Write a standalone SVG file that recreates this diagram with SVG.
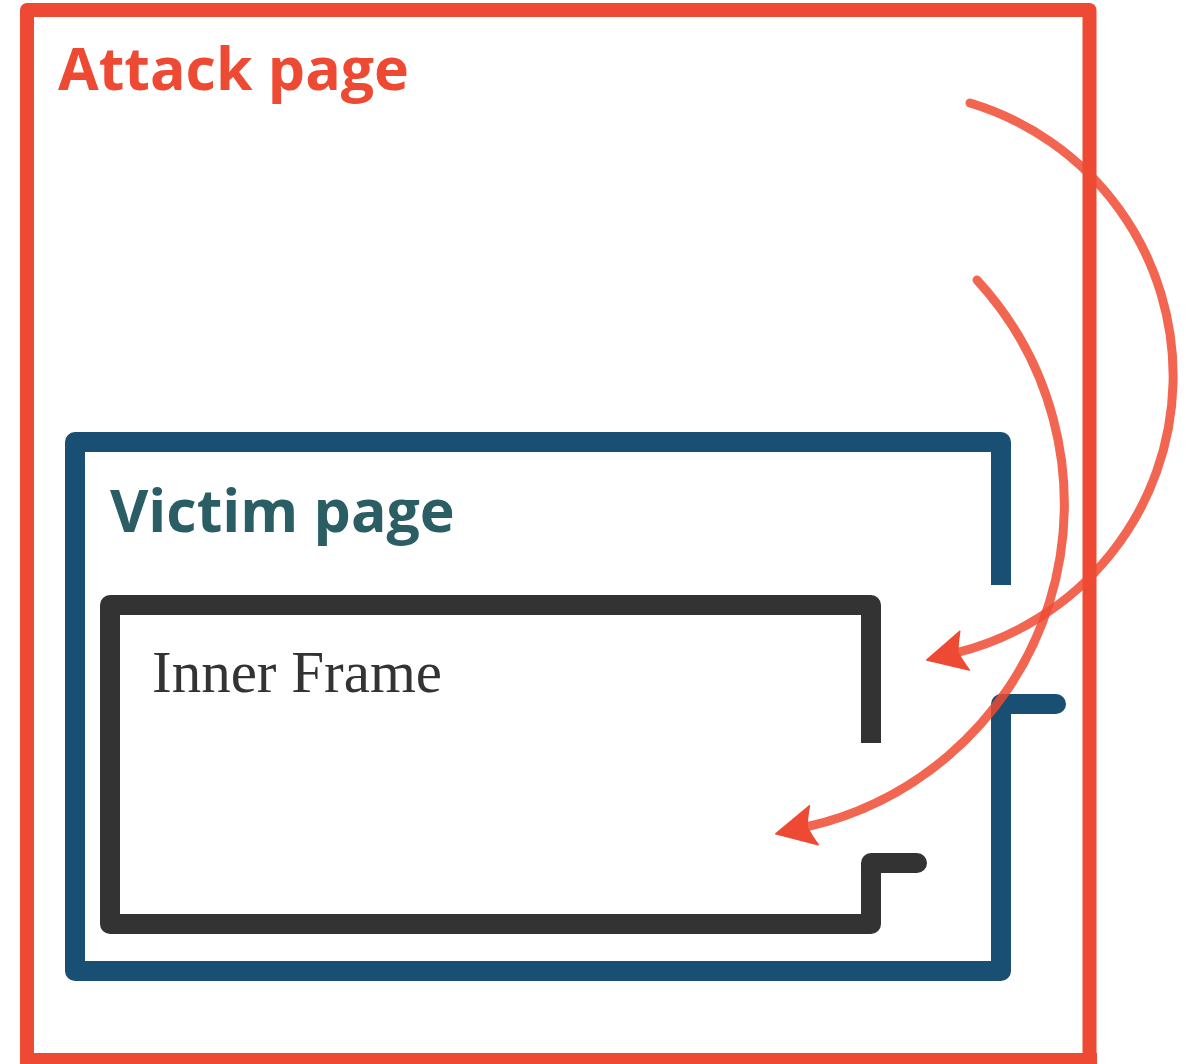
<svg xmlns="http://www.w3.org/2000/svg" width="1188" height="1064" viewBox="0 0 1188 1064">
  <style>
    .frame { fill: none; stroke-linejoin: round; }
    .attack { stroke: #ee4a33; stroke-width: 14; }
    .victim { stroke: #184f72; stroke-width: 20; }
    .inner { stroke: #333333; stroke-width: 20; }
    .stub { stroke-linecap: round; }
    .title { font-family: "Open Sans", "Liberation Sans", sans-serif; font-weight: 700; font-size: 59px; }
    .label { font-family: "Liberation Serif", "DejaVu Serif", serif; font-size: 59px; fill: #333333; }
    .flow { fill: none; stroke: #ee4a33; stroke-width: 9; stroke-opacity: 0.85; stroke-linecap: round; }
  </style>
  <defs>
    <marker id="head" markerUnits="userSpaceOnUse" markerWidth="60" markerHeight="60" refX="0" refY="0" orient="auto" overflow="visible">
      <path d="M31,0 L-8,-20 Q-3,-8 -1,0 Q-3,8 -8,20 Z" fill="#ee4a33" stroke="#ee4a33" stroke-width="1.5" stroke-linejoin="round"/>
    </marker>
  </defs>

  <rect width="1188" height="1064" fill="#ffffff"/>

  <!-- outer page -->
  <g id="attack-page">
    <path class="frame attack" d="M27,1070 V10 H1089.5 V1070"/>
    <path class="frame attack" d="M20,1060 H1097"/>
    <text class="title" x="58" y="90" fill="#ee4a33">Attack page</text>
  </g>

  <!-- framed page -->
  <g id="victim-page">
    <path class="frame victim" d="M1001,585 V442 H75 V971 H1001 V704"/>
    <line class="victim stub" x1="1001" y1="704" x2="1056" y2="704" stroke-width="13"/>
    <text class="title" x="110" y="532" fill="#2b5e64">Victim page</text>
  </g>

  <!-- nested frame -->
  <g id="inner-frame">
    <path class="frame inner" d="M871,743 V605 H110 V924 H871 V863"/>
    <line class="inner stub" x1="871" y1="863" x2="917" y2="863" stroke-width="12"/>
    <text class="label" x="152" y="692">Inner Frame</text>
  </g>

  <!-- curved arrows -->
  <g id="connectors">
    <path class="flow" d="M970,103 A285,285 0 0 1 956.8,652.6" marker-end="url(#head)"/>
    <path class="flow" d="M977,280 A331,331 0 0 1 806,827" marker-end="url(#head)"/>
  </g>
</svg>
